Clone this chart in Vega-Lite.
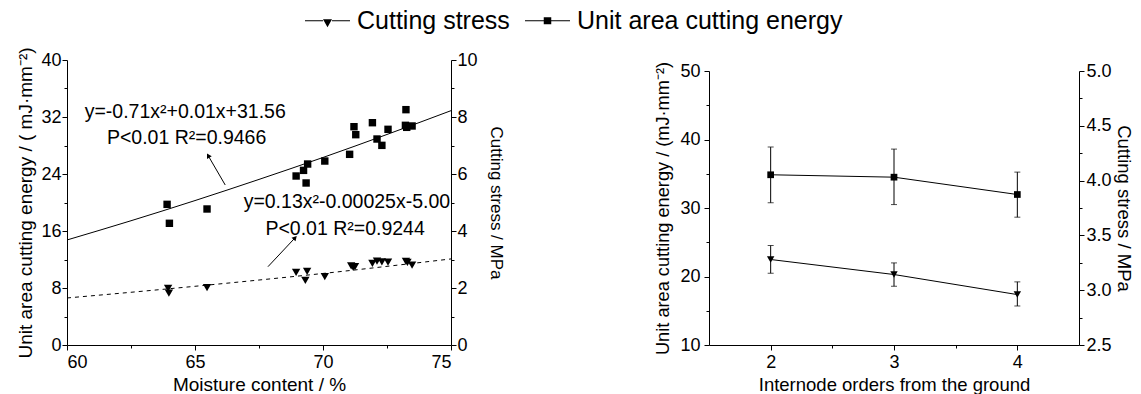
{
  "$schema": "https://vega.github.io/schema/vega-lite/v6.json",
  "padding": {"left": 16, "top": 0, "right": 3, "bottom": 0},
  "spacing": 148,
  "config": {
    "font": "Liberation Sans",
    "view": {"stroke": null},
    "axis": {
      "domainColor": "black", "tickColor": "black", "labelColor": "black", "titleColor": "black",
      "labelFont": "Liberation Sans", "titleFont": "Liberation Sans",
      "labelFontSize": 18, "titleFontSize": 19, "titleFontWeight": "normal",
      "grid": false, "labelOverlap": false, "labelPadding": 2, "domainWidth": 1, "tickWidth": 1, "tickSize": 5
    }
  },
  "datasets": {
    "energy": [
      {"mc": 63.91, "e": 19.74}, {"mc": 64.0, "e": 17.08}, {"mc": 65.47, "e": 19.09},
      {"mc": 68.95, "e": 23.72}, {"mc": 69.24, "e": 24.51}, {"mc": 69.4, "e": 25.4},
      {"mc": 69.34, "e": 22.74}, {"mc": 70.07, "e": 25.82}, {"mc": 71.04, "e": 26.76},
      {"mc": 71.21, "e": 30.64}, {"mc": 71.28, "e": 29.52}, {"mc": 71.93, "e": 31.2},
      {"mc": 72.11, "e": 28.91}, {"mc": 72.3, "e": 28.02}, {"mc": 72.54, "e": 30.27},
      {"mc": 73.24, "e": 33.03}, {"mc": 73.22, "e": 30.83}, {"mc": 73.27, "e": 30.55},
      {"mc": 73.48, "e": 30.74}
    ],
    "stress": [
      {"mc": 63.95, "s": 1.99}, {"mc": 63.98, "s": 1.82}, {"mc": 65.47, "s": 2.01},
      {"mc": 68.95, "s": 2.55}, {"mc": 69.38, "s": 2.58}, {"mc": 69.31, "s": 2.27},
      {"mc": 70.07, "s": 2.4}, {"mc": 71.1, "s": 2.78}, {"mc": 71.18, "s": 2.72},
      {"mc": 71.25, "s": 2.75}, {"mc": 71.93, "s": 2.86}, {"mc": 72.11, "s": 2.94},
      {"mc": 72.3, "s": 2.92}, {"mc": 72.54, "s": 2.91}, {"mc": 73.24, "s": 2.93},
      {"mc": 73.3, "s": 2.9}, {"mc": 73.48, "s": 2.8}
    ],
    "fitEnergy": [
      {"mc": 60, "e": 14.74}, {"mc": 62.5, "e": 17.44}, {"mc": 65, "e": 20.27},
      {"mc": 67.5, "e": 23.24}, {"mc": 70, "e": 26.32}, {"mc": 72.5, "e": 29.55}, {"mc": 75, "e": 32.89}
    ],
    "fitStress": [
      {"mc": 60, "s": 1.65}, {"mc": 62.5, "s": 1.85}, {"mc": 65, "s": 2.06},
      {"mc": 67.5, "s": 2.28}, {"mc": 70, "s": 2.51}, {"mc": 72.5, "s": 2.76}, {"mc": 75, "s": 3.02}
    ],
    "notes": [
      {"mc": 60.69, "e": 32.65, "label": "y=-0.71x²+0.01x+31.56"},
      {"mc": 61.56, "e": 29.05, "label": "P<0.01 R²=0.9466"},
      {"mc": 66.9, "e": 20.02, "label": "y=0.13x²-0.00025x-5.00"},
      {"mc": 67.75, "e": 16.28, "label": "P<0.01 R²=0.9244"}
    ],
    "arrows": [
      {"mc": 66.18, "e": 22.46, "mc2": 65.53, "e2": 26.48},
      {"mc": 67.85, "e": 10.99, "mc2": 68.89, "e2": 14.97}
    ],
    "series": [{"series": "Cutting stress"}, {"series": "Unit area cutting energy"}],
    "nodeEnergy": [
      {"order": 2, "e": 34.85, "lo": 30.76, "hi": 38.89},
      {"order": 3, "e": 34.5, "lo": 30.5, "hi": 38.6},
      {"order": 4, "e": 31.97, "lo": 28.66, "hi": 35.24}
    ],
    "nodeStress": [
      {"order": 2, "s": 3.28, "lo": 3.155, "hi": 3.407},
      {"order": 3, "s": 3.143, "lo": 3.036, "hi": 3.249},
      {"order": 4, "s": 2.96, "lo": 2.856, "hi": 3.076}
    ]
  },
  "hconcat": [
    {
      "width": 384,
      "height": 285,
      "layer": [
        {
          "layer": [
            {
              "data": {"name": "energy"},
              "mark": {"type": "point", "shape": "square", "filled": true, "color": "black", "opacity": 1, "size": 55},
              "encoding": {
                "x": {"field": "mc", "type": "quantitative", "scale": {"domain": [60, 75], "nice": false},
                  "axis": {"orient": "bottom", "title": "Moisture content / %", "values": [60, 65, 70, 75],
                    "labelPadding": 3, "titlePadding": 4}},
                "y": {"field": "e", "type": "quantitative", "scale": {"domain": [0, 40], "nice": false},
                  "axis": {"orient": "left", "title": "Unit area cutting energy / ( mJ·mm⁻²)", "values": [0, 8, 16, 24, 32, 40],
                    "labelPadding": 1, "titlePadding": 5}}
              }
            },
            {
              "data": {"name": "fitEnergy"},
              "mark": {"type": "line", "color": "black", "strokeWidth": 1, "interpolate": "monotone"},
              "encoding": {
                "x": {"field": "mc", "type": "quantitative", "axis": null},
                "y": {"field": "e", "type": "quantitative",
                  "axis": {"orient": "left", "title": null, "values": [4, 12, 20, 28, 36], "labels": false, "domain": false, "tickSize": 3}}
              }
            },
            {
              "data": {"name": "notes"},
              "mark": {"type": "text", "align": "left", "baseline": "middle", "fontSize": 19.5, "color": "black", "font": "Liberation Sans"},
              "encoding": {
                "x": {"field": "mc", "type": "quantitative", "axis": null},
                "y": {"field": "e", "type": "quantitative", "axis": null},
                "text": {"field": "label"}
              }
            },
            {
              "data": {"name": "arrows"},
              "mark": {"type": "rule", "color": "black", "strokeWidth": 1},
              "encoding": {
                "x": {"field": "mc", "type": "quantitative", "axis": null},
                "y": {"field": "e", "type": "quantitative", "axis": null},
                "x2": {"field": "mc2"},
                "y2": {"field": "e2"}
              }
            },
            {
              "data": {"name": "arrows"},
              "transform": [{"filter": "datum.mc > 67"}],
              "mark": {"type": "point", "shape": "triangle", "filled": true, "color": "black", "opacity": 1, "size": 30, "angle": 43},
              "encoding": {
                "x": {"field": "mc2", "type": "quantitative", "axis": null},
                "y": {"field": "e2", "type": "quantitative", "axis": null}
              }
            },
            {
              "data": {"name": "arrows"},
              "transform": [{"filter": "datum.mc < 67"}],
              "mark": {"type": "point", "shape": "triangle", "filled": true, "color": "black", "opacity": 1, "size": 30, "angle": 330},
              "encoding": {
                "x": {"field": "mc2", "type": "quantitative", "axis": null},
                "y": {"field": "e2", "type": "quantitative", "axis": null}
              }
            },
            {
              "data": {"name": "series"},
              "mark": {"type": "point", "filled": true, "color": "black", "opacity": 0},
              "encoding": {
                "shape": {"field": "series", "type": "nominal",
                  "scale": {"domain": ["Cutting stress", "Unit area cutting energy"],
                    "range": ["M-4.5,-0.1H-0.9V0.1H-4.5ZM0.9,-0.1H4.5V0.1H0.9ZM-0.9,-0.3L0.9,-0.3L0,1.3Z", "M-4.5,-0.1H-0.75V0.1H-4.5ZM0.75,-0.1H4.5V0.1H0.75ZM-0.75,-0.7H0.75V0.7H-0.75Z"]},
                  "legend": {"orient": "none", "legendX": 240, "legendY": -60, "direction": "horizontal", "title": null,
                    "labelFontSize": 25, "labelFont": "Liberation Sans", "labelColor": "black", "labelLimit": 500,
                    "symbolSize": 100, "symbolOpacity": 1, "symbolStrokeWidth": 0,
                    "labelOffset": 17, "columnPadding": 15, "padding": 8}}
              }
            }
          ],
          "resolve": {"axis": {"x": "independent", "y": "independent"}}
        },
        {
          "layer": [
            {
              "data": {"name": "stress"},
              "mark": {"type": "point", "shape": "triangle-down", "filled": true, "color": "black", "opacity": 1, "size": 70},
              "encoding": {
                "x": {"field": "mc", "type": "quantitative",
                  "axis": {"orient": "bottom", "title": null, "values": [62.5, 67.5, 72.5], "labels": false, "domain": false, "tickSize": 3}},
                "y": {"field": "s", "type": "quantitative", "scale": {"domain": [0, 10], "nice": false},
                  "axis": {"orient": "right", "title": "Cutting stress / MPa", "values": [0, 2, 4, 6, 8, 10],
                    "labelPadding": 1, "titlePadding": 9, "titleFontSize": 17}}
              }
            },
            {
              "data": {"name": "fitStress"},
              "mark": {"type": "line", "color": "black", "strokeWidth": 1, "strokeDash": [4, 4], "interpolate": "monotone"},
              "encoding": {
                "x": {"field": "mc", "type": "quantitative", "axis": null},
                "y": {"field": "s", "type": "quantitative",
                  "axis": {"orient": "right", "title": null, "values": [1, 3, 5, 7, 9], "labels": false, "domain": false, "tickSize": 3}}
              }
            }
          ],
          "resolve": {"axis": {"x": "independent", "y": "independent"}}
        }
      ],
      "resolve": {"scale": {"y": "independent"}, "axis": {"y": "independent", "x": "independent"}}
    },
    {
      "width": 370,
      "height": 285,
      "layer": [
        {
          "data": {"name": "nodeEnergy"},
          "layer": [
            {
              "mark": {"type": "line", "color": "black", "strokeWidth": 1},
              "encoding": {
                "x": {"field": "order", "type": "quantitative", "scale": {"domain": [1.5, 4.5], "nice": false},
                  "axis": {"orient": "bottom", "title": "Internode orders from the ground", "values": [2, 3, 4],
                    "labelPadding": 3, "titlePadding": 4, "titleFontSize": 18.5}},
                "y": {"field": "e", "type": "quantitative", "scale": {"domain": [10, 50], "nice": false, "range": [285, 11]},
                  "axis": {"orient": "left", "title": "Unit area cutting energy / (mJ·mm⁻²)", "values": [10, 20, 30, 40, 50],
                    "labelPadding": 4, "titlePadding": 7, "titleFontSize": 18.2}}
              }
            },
            {
              "mark": {"type": "rule", "color": "black", "strokeWidth": 1},
              "encoding": {
                "x": {"field": "order", "type": "quantitative", "axis": null},
                "y": {"field": "lo", "type": "quantitative",
                  "axis": {"orient": "left", "title": null, "values": [15, 25, 35, 45], "labels": false, "domain": false, "tickSize": 3}},
                "y2": {"field": "hi"}
              }
            },
            {
              "mark": {"type": "tick", "orient": "horizontal", "color": "black", "size": 6, "thickness": 1},
              "encoding": {
                "x": {"field": "order", "type": "quantitative", "axis": null},
                "y": {"field": "lo", "type": "quantitative", "axis": null}
              }
            },
            {
              "mark": {"type": "tick", "orient": "horizontal", "color": "black", "size": 6, "thickness": 1},
              "encoding": {
                "x": {"field": "order", "type": "quantitative", "axis": null},
                "y": {"field": "hi", "type": "quantitative", "axis": null}
              }
            },
            {
              "mark": {"type": "point", "shape": "square", "filled": true, "color": "black", "opacity": 1, "size": 45},
              "encoding": {
                "x": {"field": "order", "type": "quantitative", "axis": null},
                "y": {"field": "e", "type": "quantitative", "axis": null}
              }
            }
          ],
          "resolve": {"axis": {"x": "independent", "y": "independent"}}
        },
        {
          "data": {"name": "nodeStress"},
          "layer": [
            {
              "mark": {"type": "line", "color": "black", "strokeWidth": 1},
              "encoding": {
                "x": {"field": "order", "type": "quantitative",
                  "axis": {"orient": "bottom", "title": null, "values": [2.5, 3.5], "labels": false, "domain": false, "tickSize": 3}},
                "y": {"field": "s", "type": "quantitative", "scale": {"domain": [2.5, 5], "nice": false, "range": [285, 11]},
                  "axis": {"orient": "right", "title": "Cutting stress / MPa", "values": [2.5, 3, 3.5, 4, 4.5, 5],
                    "format": ".1f", "labelPadding": 2, "titlePadding": 2, "titleFontSize": 18.5}}
              }
            },
            {
              "mark": {"type": "rule", "color": "black", "strokeWidth": 1},
              "encoding": {
                "x": {"field": "order", "type": "quantitative", "axis": null},
                "y": {"field": "lo", "type": "quantitative",
                  "axis": {"orient": "right", "title": null, "values": [2.75, 3.25, 3.75, 4.25, 4.75], "labels": false, "domain": false, "tickSize": 3}},
                "y2": {"field": "hi"}
              }
            },
            {
              "mark": {"type": "tick", "orient": "horizontal", "color": "black", "size": 6, "thickness": 1},
              "encoding": {
                "x": {"field": "order", "type": "quantitative", "axis": null},
                "y": {"field": "lo", "type": "quantitative", "axis": null}
              }
            },
            {
              "mark": {"type": "tick", "orient": "horizontal", "color": "black", "size": 6, "thickness": 1},
              "encoding": {
                "x": {"field": "order", "type": "quantitative", "axis": null},
                "y": {"field": "hi", "type": "quantitative", "axis": null}
              }
            },
            {
              "mark": {"type": "point", "shape": "triangle-down", "filled": true, "color": "black", "opacity": 1, "size": 55},
              "encoding": {
                "x": {"field": "order", "type": "quantitative", "axis": null},
                "y": {"field": "s", "type": "quantitative", "axis": null}
              }
            }
          ],
          "resolve": {"axis": {"x": "independent", "y": "independent"}}
        }
      ],
      "resolve": {"scale": {"y": "independent"}, "axis": {"y": "independent", "x": "independent"}}
    }
  ]
}
